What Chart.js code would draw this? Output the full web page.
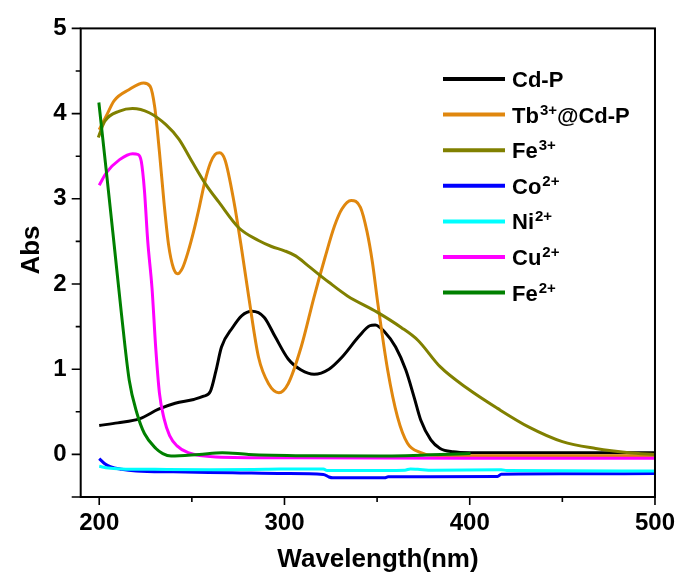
<!DOCTYPE html>
<html>
<head>
<meta charset="utf-8">
<script src="https://cdn.jsdelivr.net/npm/chart.js@4.4.1/dist/chart.umd.min.js"></script>
<style>
  body { margin: 0; background: #fff; }
</style>
</head>
<body>
<canvas id="absChart" width="687" height="578"></canvas>
<script>
// UV-vis absorption spectra, wavelength (nm) vs absorbance
const cdpWl  = [200, 210, 222, 232, 241, 251, 256, 260, 263, 266, 272, 277, 282.5, 289, 295, 302, 309, 316, 324, 331, 340, 346, 349, 354, 360, 365.5, 370, 373.6, 379, 384, 391, 400, 450, 500];
const cdpAbs = [0.34, 0.37, 0.42, 0.53, 0.60, 0.645, 0.68, 0.74, 0.98, 1.26, 1.49, 1.63, 1.68, 1.61, 1.38, 1.12, 0.99, 0.94, 1.00, 1.14, 1.38, 1.51, 1.52, 1.44, 1.26, 0.99, 0.67, 0.40, 0.17, 0.07, 0.03, 0.02, 0.02, 0.02];

const tbWl  = [200, 204, 208, 216, 224, 227.5, 230, 232.5, 235, 237.5, 240, 242.3, 245, 248, 251, 254, 257, 260, 262.5, 265, 268, 272.6, 277, 280.7, 286, 291.4, 297, 302, 309, 316, 322, 327, 331, 336, 341, 344.5, 347.5, 350.4, 355.7, 361, 366.4, 373.6, 379, 400, 450, 500];
const tbAbs = [3.81, 3.98, 4.15, 4.28, 4.36, 4.32, 4.07, 3.55, 2.95, 2.45, 2.19, 2.12, 2.19, 2.38, 2.62, 2.90, 3.20, 3.42, 3.52, 3.54, 3.45, 2.98, 2.39, 1.85, 1.14, 0.83, 0.725, 0.83, 1.26, 1.85, 2.32, 2.68, 2.88, 2.98, 2.90, 2.62, 2.25, 1.77, 0.99, 0.44, 0.13, 0.02, -0.01, -0.015, -0.015, -0.015];

const fe3Wl  = [199.5, 203, 211, 218, 227, 236, 243, 250, 257.5, 264.6, 275.3, 286, 293, 300, 306, 313, 324, 334, 350, 363, 372, 384, 399, 415, 432, 450, 468, 486, 500];
const fe3Abs = [3.72, 3.91, 4.03, 4.06, 4.01, 3.87, 3.70, 3.44, 3.17, 2.96, 2.66, 2.51, 2.44, 2.39, 2.33, 2.21, 2.02, 1.86, 1.67, 1.49, 1.34, 1.03, 0.77, 0.54, 0.32, 0.15, 0.07, 0.02, 0.0];

const coWl  = [200, 203, 206, 212, 220, 240, 272, 300, 321, 324, 326, 354, 356, 415, 417, 450, 500];
const coAbs = [-0.05, -0.11, -0.145, -0.175, -0.195, -0.205, -0.215, -0.225, -0.235, -0.265, -0.275, -0.275, -0.262, -0.258, -0.232, -0.228, -0.225];

const niWl  = [200, 205, 212, 230, 260, 290, 310, 321, 323, 340, 365, 368, 372, 380, 417, 420, 500];
const niAbs = [-0.14, -0.16, -0.17, -0.175, -0.18, -0.175, -0.17, -0.17, -0.19, -0.19, -0.185, -0.17, -0.175, -0.185, -0.18, -0.19, -0.195];

const cuWl  = [200, 204, 211, 218, 221, 222.7, 224.4, 226.2, 228.5, 230.5, 232.5, 235, 238, 242, 248, 263, 300, 400, 500];
const cuAbs = [3.16, 3.31, 3.46, 3.53, 3.52, 3.44, 3.10, 2.50, 1.95, 1.25, 0.72, 0.42, 0.22, 0.10, 0.02, -0.03, -0.04, -0.045, -0.045];

const fe2Wl  = [199.8, 204, 208.4, 212, 216.2, 220.4, 224.4, 230.6, 234.3, 238.8, 254, 266.4, 280.7, 316, 352, 400.4];
const fe2Abs = [4.13, 3.29, 2.39, 1.65, 0.87, 0.48, 0.245, 0.07, 0.01, -0.02, 0.0, 0.02, 0.0, -0.016, -0.02, 0.01];

const seriesNames = ['Cd-P', 'Tb3+@Cd-P', 'Fe3+', 'Co2+', 'Ni2+', 'Cu2+', 'Fe2+'];
// legend text split into [base, superscript, tail]
const legendParts = [['Cd-P'], ['Tb', '3+', '@Cd-P'], ['Fe', '3+'], ['Co', '2+'], ['Ni', '2+'], ['Cu', '2+'], ['Fe', '2+']];
const seriesColors = ['#000000', '#E0870E', '#808000', '#0000FF', '#00FFFF', '#FF00FF', '#008000'];

const xTicks = [200, 250, 300, 350, 400, 450, 500];
const yTicks = [-0.5, 0, 0.5, 1, 1.5, 2, 2.5, 3, 3.5, 4, 4.5, 5];

const wlSets  = [cdpWl, tbWl, fe3Wl, coWl, niWl, cuWl, fe2Wl];
const absSets = [cdpAbs, tbAbs, fe3Abs, coAbs, niAbs, cuAbs, fe2Abs];

const FONT = "'Liberation Sans', Arial, Helvetica, sans-serif";

const datasets = seriesNames.map((name, i) => ({
  label: name,
  data: wlSets[i].map((w, k) => ({ x: w, y: absSets[i][k] })),
  borderColor: seriesColors[i],
  borderWidth: 3,
  pointRadius: 0,
  fill: false,
  cubicInterpolationMode: 'monotone',
  order: seriesNames.length - 1 - i
}));

// box, tick marks, axis titles and legend
const decor = {
  id: 'decor',
  afterDraw(chart) {
    const ctx = chart.ctx;
    const a = chart.chartArea;
    const sx = chart.scales.x, sy = chart.scales.y;
    ctx.save();
    ctx.strokeStyle = '#000';
    ctx.lineWidth = 2;
    ctx.strokeRect(a.left, a.top, a.right - a.left, a.bottom - a.top);

    ctx.lineWidth = 1.6;
    ctx.beginPath();
    xTicks.forEach(v => {
      const px = sx.getPixelForValue(v);
      const len = v % 100 === 0 ? 8 : 5;
      ctx.moveTo(px, a.bottom);
      ctx.lineTo(px, a.bottom + len);
    });
    yTicks.forEach(v => {
      const py = sy.getPixelForValue(v);
      const len = Number.isInteger(v) || v === -0.5 ? 9 : 5;
      ctx.moveTo(a.left, py);
      ctx.lineTo(a.left - len, py);
    });
    ctx.stroke();

    // axis titles
    ctx.fillStyle = '#000';
    ctx.font = 'bold 26px ' + FONT;
    ctx.textAlign = 'center';
    ctx.textBaseline = 'alphabetic';
    ctx.fillText('Wavelength(nm)', 378, 567);
    ctx.save();
    ctx.translate(39, 250);
    ctx.rotate(-Math.PI / 2);
    ctx.fillText('Abs', 0, 0);
    ctx.restore();

    // legend
    ctx.textAlign = 'left';
    legendParts.forEach((parts, i) => {
      const y = 79 + i * 35.6;
      ctx.strokeStyle = seriesColors[i];
      ctx.lineWidth = 4;
      ctx.beginPath();
      ctx.moveTo(443, y);
      ctx.lineTo(505, y);
      ctx.stroke();
      let x = 512;
      ctx.font = 'bold 22px ' + FONT;
      ctx.fillText(parts[0], x, y + 8);
      x += ctx.measureText(parts[0]).width + 1;
      if (parts[1]) {
        ctx.font = 'bold 15px ' + FONT;
        ctx.fillText(parts[1], x, y);
        x += ctx.measureText(parts[1]).width;
      }
      if (parts[2]) {
        ctx.font = 'bold 22px ' + FONT;
        ctx.fillText(parts[2], x, y + 8);
      }
    });
    ctx.restore();
  }
};

new Chart(document.getElementById('absChart'), {
  type: 'line',
  data: { datasets: datasets },
  options: {
    responsive: false,
    animation: false,
    devicePixelRatio: 1,
    layout: { padding: { left: 0, right: 27.7, top: 27, bottom: 0 } },
    plugins: {
      legend: { display: false },
      tooltip: { enabled: false }
    },
    scales: {
      x: {
        type: 'linear',
        min: 190,
        max: 500,
        afterBuildTicks: s => { s.ticks = xTicks.map(v => ({ value: v })); },
        afterFit: s => { s.height = 81; },
        grid: { display: false, drawTicks: false },
        border: { display: false },
        ticks: {
          color: '#000',
          padding: 12,
          maxRotation: 0,
          autoSkip: false,
          font: { family: FONT, size: 24, weight: 'bold' },
          callback: v => (v % 100 === 0 ? v : '')
        }
      },
      y: {
        type: 'linear',
        min: -0.5,
        max: 5,
        afterBuildTicks: s => { s.ticks = yTicks.map(v => ({ value: v })); },
        afterFit: s => { s.width = 80.7; },
        grid: { display: false, drawTicks: false },
        border: { display: false },
        ticks: {
          color: '#000',
          padding: 14,
          autoSkip: false,
          font: { family: FONT, size: 24, weight: 'bold' },
          callback: v => (Number.isInteger(v) ? v : '')
        }
      }
    }
  },
  plugins: [decor]
});
</script>
</body>
</html>
